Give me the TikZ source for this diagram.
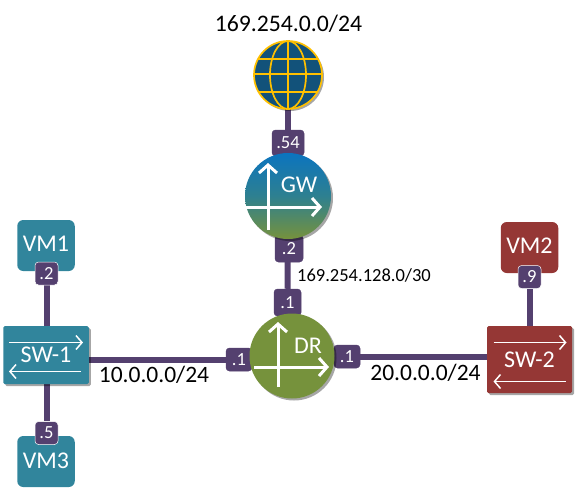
\documentclass[tikz,border=0pt]{standalone}
\usepackage{fontspec}
\setmainfont{Carlito}
\usetikzlibrary{shadows,backgrounds,arrows.meta}
\definecolor{linkpurple}{HTML}{54406F}
\definecolor{vmteal}{HTML}{31859C}
\definecolor{vmred}{HTML}{953735}
\definecolor{drgreen}{HTML}{76923C}
\definecolor{globeblue}{HTML}{12527A}
\definecolor{globegold}{HTML}{FFC000}
\definecolor{gwblue}{HTML}{0B74BF}
\definecolor{gwmid}{HTML}{2E8090}
\tikzset{
	softshadow/.style={drop shadow={shadow xshift=2pt,shadow yshift=-2pt,opacity=.35,fill=black}},
	link/.style={linkpurple,line width=6pt},
	badge/.style={fill=linkpurple,draw=#1,line width=.5pt,rounded corners=3.5pt,inner sep=0pt,text=white,
		font=\fontsize{18.5}{18.5}\selectfont},
	badge/.default=linkpurple,
	vm/.style={fill=#1,rounded corners=6pt,minimum width=57.5pt,minimum height=51pt,inner sep=0pt,text=white,
		font=\fontsize{24}{24}\selectfont},
	switchbox/.style={fill=#1,rounded corners=1.5pt,inner sep=0pt,text=white,softshadow,
		font=\fontsize{24}{24}\selectfont},
	router/.style={circle,minimum size=#1,inner sep=0pt,softshadow},
	routername/.style={text=white,inner sep=0pt,font=\fontsize{24}{24}\selectfont},
	netlabel/.style={inner sep=0pt,font=\fontsize{#1}{#1}\selectfont},
	whitearrow/.style={white,line width=3pt,-{Straight Barb[length=8pt,width=18pt,line width=3pt]}},
	swarrow/.style={white,line width=1.5pt,-{Straight Barb[length=6pt,width=14pt,line width=1.5pt]}}
}

\begin{document}
\begin{tikzpicture}[x=1pt,y=-1pt]
	\useasboundingbox (0,0) rectangle (583,488);

	% hosts
	\node (vm1) at (46,245.5)[vm=vmteal] {};
	\node (vm1name) at (46,244)[routername] {VM1};
	\node (vm3) at (46,461.5)[vm=vmteal] {};
	\node (vm3name) at (46,461)[routername] {VM3};
	\node (vm2) at (529.5,247.5)[vm=vmred] {};
	\node (vm2name) at (529.5,246)[routername] {VM2};

	% switches
	\node (sw1) at (46,355)[switchbox=vmteal,minimum width=85.5pt,minimum height=58pt] {SW-1};
	\node (sw2) at (529.5,359.5)[switchbox=vmred,minimum width=85pt,minimum height=67pt] {SW-2};

	% badges
	\node (b54) at (288,143)[badge,minimum width=32pt,minimum height=26pt] {.54};
	\node (b2gw) at (289,248.5)[badge,minimum width=28pt,minimum height=27pt] {.2};
	\node (b1top) at (287.5,302.5)[badge,minimum width=27pt,minimum height=27pt] {.1};
	\node (b1left) at (239,359.5)[badge,minimum width=26pt,minimum height=23pt] {.1};
	\node (b1right) at (347,356.5)[badge,minimum width=26pt,minimum height=23pt] {.1};
	\node (b2vm) at (46.5,273.5)[badge=white,minimum width=23pt,minimum height=23pt] {.2};
	\node (b5vm) at (46.5,433)[badge=white,minimum width=23pt,minimum height=23pt] {.5};
	\node (b9vm) at (529.5,277)[badge=white,minimum width=23pt,minimum height=23pt] {.9};

	% routers and globe
	\node (gw) at (288,196)[router=86pt,top color=gwblue,bottom color=drgreen,middle color=gwmid] {};
	\node (dr) at (292,356)[router=85pt,fill=drgreen] {};
	\node (globe) at (288,75)[circle,minimum size=68pt,inner sep=0pt,fill=globeblue,softshadow] {};
	\begin{scope}
		\clip (globe.center) circle (34pt);
		\draw[globegold,line width=1.7pt] (globe.center) ellipse (18pt and 34pt)
			(globe.north) -- (globe.south)
			([yshift=-17pt]globe.west) -- ([yshift=-17pt]globe.east)
			([yshift=1pt]globe.west) -- ([yshift=1pt]globe.east)
			([yshift=16pt]globe.west) -- ([yshift=16pt]globe.east);
	\end{scope}
	\draw[globegold,line width=1.7pt] (globe.center) circle (34pt);

	% router arrows
	\draw[whitearrow] ([shift={(-20,34)}]gw.center) -- ([shift={(-20,-33)}]gw.center);
	\draw[whitearrow] ([shift={(-42,11)}]gw.center) -- ([shift={(34,11)}]gw.center);
	\node (gwname) at (299,185)[routername] {GW};
	\draw[whitearrow] ([shift={(-14,31)}]dr.center) -- ([shift={(-14,-34)}]dr.center);
	\draw[whitearrow] ([shift={(-38,11)}]dr.center) -- ([shift={(37,11)}]dr.center);
	\node (drname) at (308,346)[routername] {DR};

	% switch arrows
	\draw[swarrow] ([shift={(-37,-12.5)}]sw1.center) -- ([shift={(37,-12.5)}]sw1.center);
	\draw[swarrow] ([shift={(35,16.5)}]sw1.center) -- ([shift={(-37,16.5)}]sw1.center);
	\draw[swarrow] ([shift={(-36,-17)}]sw2.center) -- ([shift={(37,-17)}]sw2.center);
	\draw[swarrow] ([shift={(36,22)}]sw2.center) -- ([shift={(-36,22)}]sw2.center);

	% links
	\begin{pgfonlayer}{background}
		\draw[link] (globe) -- (gw);
		\draw[link] (gw) -- (b1top);
		\draw[link] (sw1.east |- b1left) -- (b1left);
		\draw[link] (b1right) -- (b1right -| sw2.west);
		\draw[link] (b2vm) -- (b2vm |- sw1.north);
		\draw[link] (b5vm |- sw1.south) -- (b5vm);
		\draw[link] (b9vm) -- (b9vm |- sw2.north);
	\end{pgfonlayer}

	% networks
	\node (net169) at (288.5,24)[netlabel=23.7] {169.254.0.0/24};
	\node (net128) at (364,275)[netlabel=18.5] {169.254.128.0/30};
	\node (net10) at (154,375)[netlabel=23.5] {10.0.0.0/24};
	\node (net20) at (425.5,373)[netlabel=23.5] {20.0.0.0/24};
\end{tikzpicture}
\end{document}
